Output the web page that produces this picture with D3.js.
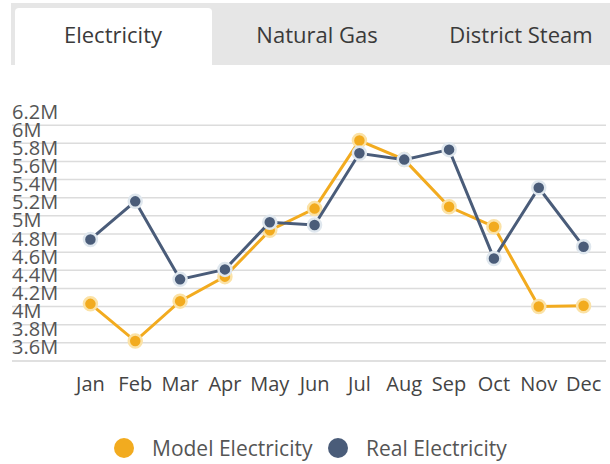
<!DOCTYPE html>
<html>
<head>
<meta charset="utf-8">
<script src="https://cdn.jsdelivr.net/npm/d3@7"></script>
<style>
  body { margin: 0; background: white; }
  svg { display: block; font-family: "Open Sans", sans-serif; }
</style>
</head>
<body>
<svg id="chart"></svg>
<script>
// Data
var months = ["Jan", "Feb", "Mar", "Apr", "May", "Jun", "Jul", "Aug", "Sep", "Oct", "Nov", "Dec"]
var modelElectricity = [4.03e6, 3.62e6, 4.06e6, 4.33e6, 4.84e6, 5.08e6, 5.83e6, 5.62e6, 5.10e6, 4.88e6, 4.00e6, 4.01e6]
var realElectricity = [4.74e6, 5.16e6, 4.30e6, 4.41e6, 4.93e6, 4.90e6, 5.69e6, 5.62e6, 5.73e6, 4.53e6, 5.31e6, 4.66e6]
var yTicks = [3.6e6, 3.8e6, 4.0e6, 4.2e6, 4.4e6, 4.6e6, 4.8e6, 5.0e6, 5.2e6, 5.4e6, 5.6e6, 5.8e6, 6.0e6, 6.2e6]
var tabs = ["Electricity", "Natural Gas", "District Steam"]
var seriesNames = ["Model Electricity", "Real Electricity"]

var dimensions = {
    width: 610,
    height: 464,
    margin: { top: 107, bottom: 103, left: 12, right: 4 }
}

var colors = { model: "#f2ab1f", real: "#4a5c79" }
var halos = { model: "#fbe2a6", real: "#dfe7ee" }

var svg = d3.select("#chart")
    .attr("width", dimensions.width)
    .attr("height", dimensions.height)

// Tab bar
svg.append("rect")
    .attr("x", 11).attr("y", 3)
    .attr("width", dimensions.width - 11).attr("height", 62)
    .attr("fill", "#e6e6e6")
svg.append("path")
    .attr("d", "M15,65 V12 Q15,8 19,8 H208 Q212,8 212,12 V65 Z")
    .attr("fill", "white")

var tabX = d3.scalePoint().domain(tabs).range([113, 521])
svg.selectAll(".tab")
    .data(tabs)
    .enter()
    .append("text")
    .attr("x", d => tabX(d))
    .attr("y", 43)
    .attr("text-anchor", "middle")
    .style("font-size", "22px")
    .style("fill", "#3a3a3a")
    .text(d => d)

// Scales
var xScale = d3.scalePoint()
    .domain(months)
    .range([68, 606])
    .padding(0.5)

var yScale = d3.scaleLinear()
    .domain([3.4e6, 6.2e6])
    .range([dimensions.height - dimensions.margin.bottom, dimensions.margin.top])

// Gridlines (no line at the top tick)
svg.selectAll(".grid")
    .data(yTicks.filter(d => d < 6.1e6))
    .enter()
    .append("line")
    .attr("x1", 12).attr("x2", 606)
    .attr("y1", d => yScale(d)).attr("y2", d => yScale(d))
    .attr("stroke", "#dcdcdc")
    .attr("stroke-width", 1.5)

// Base line
svg.append("line")
    .attr("x1", 12).attr("x2", 606)
    .attr("y1", yScale(3.4e6)).attr("y2", yScale(3.4e6))
    .attr("stroke", "#d6d6d6")
    .attr("stroke-width", 1.5)

// Y labels, left aligned and hanging under their gridline
var fmt = d3.format(".2~s")
svg.selectAll(".ylabel")
    .data(yTicks)
    .enter()
    .append("text")
    .attr("x", 12)
    .attr("y", d => yScale(d) + 11.5)
    .style("font-size", "20px")
    .style("fill", "#555")
    .text(d => fmt(d))

// X labels
svg.selectAll(".xlabel")
    .data(months)
    .enter()
    .append("text")
    .attr("x", d => xScale(d))
    .attr("y", 391)
    .attr("text-anchor", "middle")
    .style("font-size", "20px")
    .style("fill", "#444")
    .text(d => d)

var line = d3.line()
    .x((d, i) => xScale(months[i]))
    .y(d => yScale(d))

// Draw a series: line then dots
function drawSeries(values, key) {
    svg.append("path")
        .datum(values)
        .attr("d", line)
        .attr("fill", "none")
        .attr("stroke", colors[key])
        .attr("stroke-width", 3)

    svg.selectAll(".dot-" + key)
        .data(values)
        .enter()
        .append("circle")
        .attr("cx", (d, i) => xScale(months[i]))
        .attr("cy", d => yScale(d))
        .attr("r", 6.5)
        .attr("fill", colors[key])
        .attr("stroke", halos[key])
        .attr("stroke-width", 2.5)
}

drawSeries(modelElectricity, "model")
drawSeries(realElectricity, "real")

// Legend
var legendX = [124, 338]
var keys = ["model", "real"]
seriesNames.forEach((name, i) => {
    svg.append("circle")
        .attr("cx", legendX[i])
        .attr("cy", 448)
        .attr("r", 10)
        .attr("fill", colors[keys[i]])
    svg.append("text")
        .attr("x", legendX[i] + 28)
        .attr("y", 456)
        .style("font-size", "21px")
        .style("fill", "#555")
        .text(name)
})
</script>
</body>
</html>
